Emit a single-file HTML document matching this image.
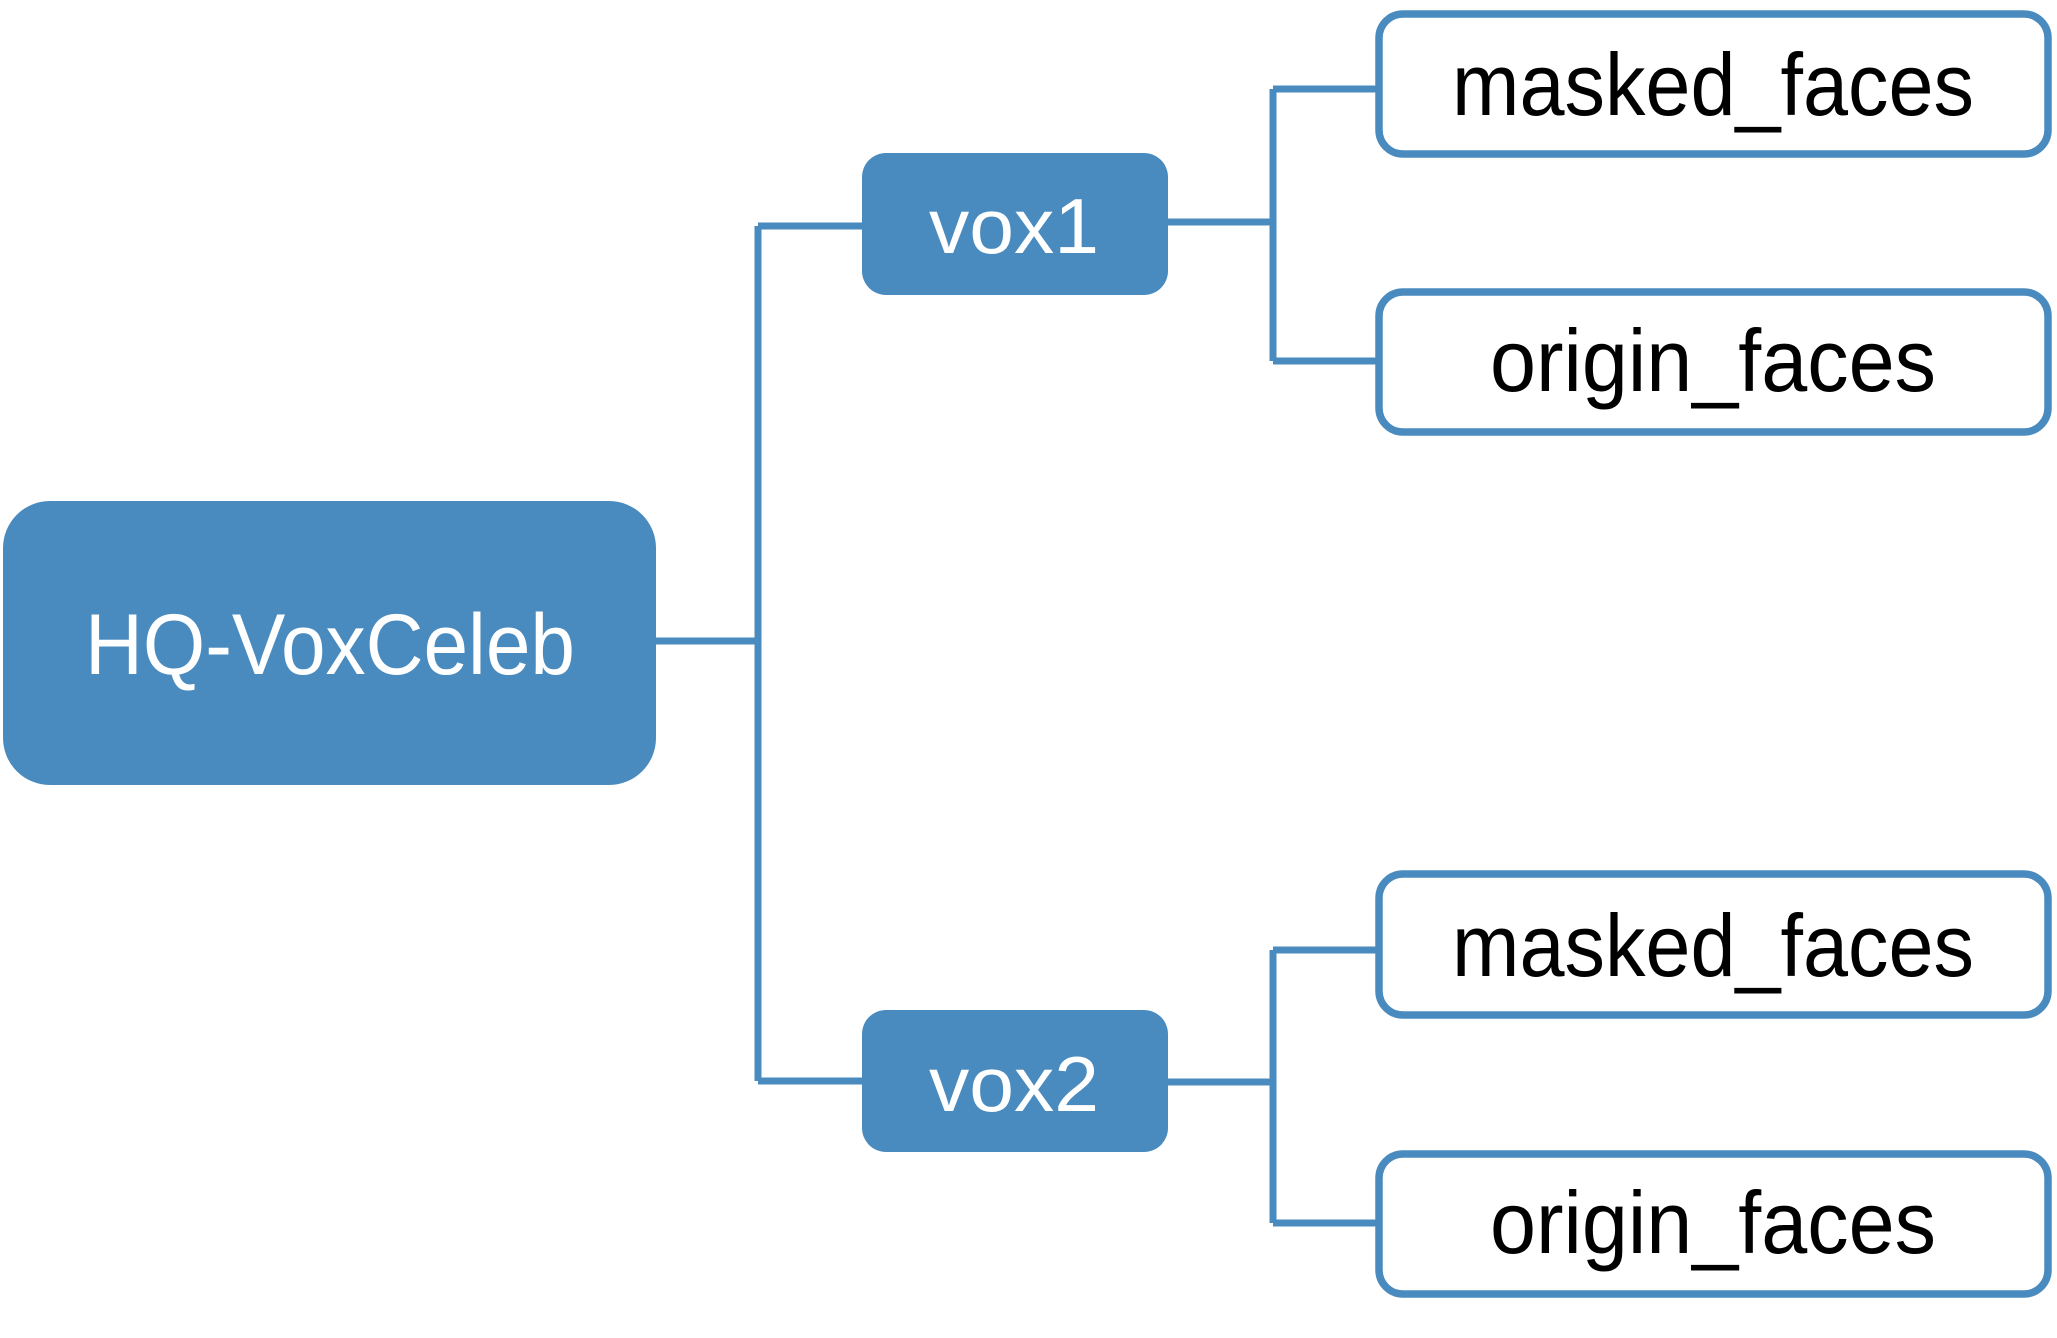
<!DOCTYPE html>
<html><head><meta charset="utf-8"><style>html,body{margin:0;padding:0;background:#fff;}svg{display:block}</style></head>
<body>
<svg width="2057" height="1338" viewBox="0 0 2057 1338" xmlns="http://www.w3.org/2000/svg">
<g fill="none" stroke="#4a8bbf" stroke-width="7">
<path d="M656 641 H758 M758 226 V1081 M758 226 H862 M758 1081 H862"/>
<path d="M1168 222 H1273 M1273 89 V361 M1273 89 H1376 M1273 361 H1376"/>
<path d="M1168 1082 H1273 M1273 950 V1223 M1273 950 H1376 M1273 1223 H1376"/>
</g>
<rect x="3" y="501" width="653" height="284" rx="47" fill="#4a8bbf"/>
<rect x="862" y="153" width="306" height="142" rx="24" fill="#4a8bbf"/>
<rect x="862" y="1010" width="306" height="142" rx="24" fill="#4a8bbf"/>
<g fill="#fff" stroke="#4a8bbf" stroke-width="7.5">
<rect x="1379" y="14" width="669" height="140" rx="24"/>
<rect x="1379" y="292" width="669" height="140" rx="24"/>
<rect x="1379" y="874" width="669" height="141" rx="24"/>
<rect x="1379" y="1154" width="669" height="140" rx="24"/>
</g>
<g font-family="Liberation Sans, sans-serif">
<text x="85" y="674" font-size="86" fill="#fff" textLength="490" lengthAdjust="spacingAndGlyphs">HQ-VoxCeleb</text>
<text x="929" y="253" font-size="78" fill="#fff" textLength="170" lengthAdjust="spacingAndGlyphs">vox1</text>
<text x="929" y="1111" font-size="78" fill="#fff" textLength="170" lengthAdjust="spacingAndGlyphs">vox2</text>
<text x="1452" y="115" font-size="88" fill="#000" textLength="522" lengthAdjust="spacingAndGlyphs">masked_faces</text>
<text x="1490" y="391" font-size="88" fill="#000" textLength="446" lengthAdjust="spacingAndGlyphs">origin_faces</text>
<text x="1452" y="976" font-size="88" fill="#000" textLength="522" lengthAdjust="spacingAndGlyphs">masked_faces</text>
<text x="1490" y="1253" font-size="88" fill="#000" textLength="446" lengthAdjust="spacingAndGlyphs">origin_faces</text>
</g>
</svg>
</body></html>
